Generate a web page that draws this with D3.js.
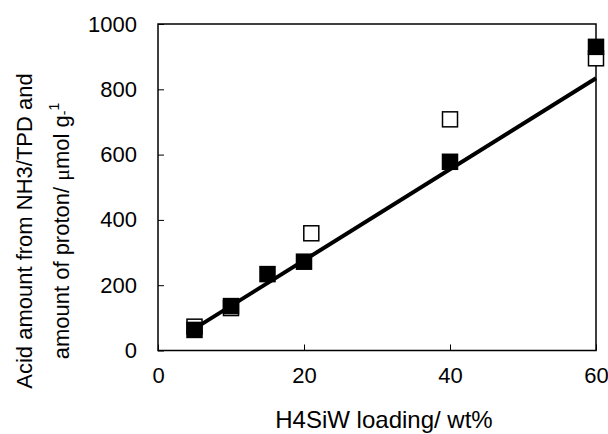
<!DOCTYPE html>
<html>
<head>
<meta charset="utf-8">
<script src="https://cdn.jsdelivr.net/npm/d3@7"></script>
<style>
    body { margin: 0; background: #fff; }
    svg { display: block; font-family: "Liberation Sans", Arial, sans-serif; }
</style>
</head>
<body>
<svg id="chart"></svg>
<script>
const width = 608;
const height = 434;

// filled squares
const filledLoading = [5, 10, 15, 20, 40, 60];
const filledAmount = [63, 136, 234, 272, 578, 930];

// open squares
const openLoading = [5, 10, 21, 40, 60];
const openAmount = [73, 130, 359, 708, 895];

// straight fit line
const fitLoading = [5, 60];
const fitAmount = [67, 834];

const xTicks = [0, 20, 40, 60];
const yTicks = [0, 200, 400, 600, 800, 1000];

const plotLeft = 158, plotRight = 596, plotTop = 24, plotBottom = 350.5;

const svg = d3.select("#chart").attr("width", width).attr("height", height);

const x = d3.scaleLinear().domain([0, 60]).range([plotLeft, plotRight]);
const y = d3.scaleLinear().domain([0, 1000]).range([plotBottom, plotTop]);

// x axis: ticks pointing inside
const xAxis = svg.append("g")
    .attr("transform", `translate(0,${plotBottom})`)
    .call(d3.axisBottom(x).tickValues(xTicks).tickFormat(d3.format("d"))
        .tickSizeInner(-6).tickSizeOuter(0).tickPadding(17));
xAxis.select(".domain").remove();
xAxis.selectAll("line").attr("stroke", "#000").attr("stroke-width", 1);
xAxis.selectAll("text")
    .attr("font-size", 22)
    .attr("font-family", "Liberation Sans, Arial, sans-serif")
    .attr("fill", "#000");

// y axis
const yAxis = svg.append("g")
    .attr("transform", `translate(${plotLeft},0)`)
    .call(d3.axisLeft(y).tickValues(yTicks).tickFormat(d3.format("d"))
        .tickSizeInner(-6).tickSizeOuter(0).tickPadding(21));
yAxis.select(".domain").remove();
yAxis.selectAll("line").attr("stroke", "#000").attr("stroke-width", 1);
yAxis.selectAll("text")
    .attr("font-size", 22)
    .attr("font-family", "Liberation Sans, Arial, sans-serif")
    .attr("fill", "#000");

// frame
svg.append("rect")
    .attr("x", plotLeft)
    .attr("y", plotTop)
    .attr("width", plotRight - plotLeft)
    .attr("height", plotBottom - plotTop)
    .attr("fill", "none")
    .attr("stroke", "#000")
    .attr("stroke-width", 1.5);

// fit line
const fit = fitLoading.map((d, i) => [d, fitAmount[i]]);
svg.append("path")
    .datum(fit)
    .attr("d", d3.line().x(d => x(d[0])).y(d => y(d[1])))
    .attr("fill", "none")
    .attr("stroke", "#000")
    .attr("stroke-width", 4);

const size = 15;

// open squares first, filled on top
svg.append("g").selectAll("rect")
    .data(openLoading.map((d, i) => [d, openAmount[i]]))
    .join("rect")
    .attr("x", d => x(d[0]) - size / 2)
    .attr("y", d => y(d[1]) - size / 2)
    .attr("width", size)
    .attr("height", size)
    .attr("fill", "#fff")
    .attr("stroke", "#000")
    .attr("stroke-width", 1.5);

svg.append("g").selectAll("rect")
    .data(filledLoading.map((d, i) => [d, filledAmount[i]]))
    .join("rect")
    .attr("x", d => x(d[0]) - size / 2)
    .attr("y", d => y(d[1]) - size / 2)
    .attr("width", size)
    .attr("height", size)
    .attr("fill", "#000")
    .attr("stroke", "#000")
    .attr("stroke-width", 1.5);

// x label
svg.append("text")
    .attr("x", 384)
    .attr("y", 428)
    .attr("text-anchor", "middle")
    .attr("font-size", 24)
    .text("H4SiW loading/ wt%");

// y label, two lines
const yLab = svg.append("text")
    .attr("transform", "translate(32,231) rotate(-90)")
    .attr("text-anchor", "middle")
    .attr("font-size", 22);
yLab.append("tspan").attr("x", 0).attr("dy", 0).text("Acid amount from NH3/TPD and");
const line2 = yLab.append("tspan").attr("x", 0).attr("dy", 37);
line2.append("tspan").text("amount of proton/ ");
line2.append("tspan").attr("font-family", "Liberation Serif, serif").text("\u03bc");
line2.append("tspan").text("mol g");
line2.append("tspan").attr("font-size", 14).text("-");
line2.append("tspan").attr("font-size", 14).attr("dy", -10).text("1");
</script>
</body>
</html>
